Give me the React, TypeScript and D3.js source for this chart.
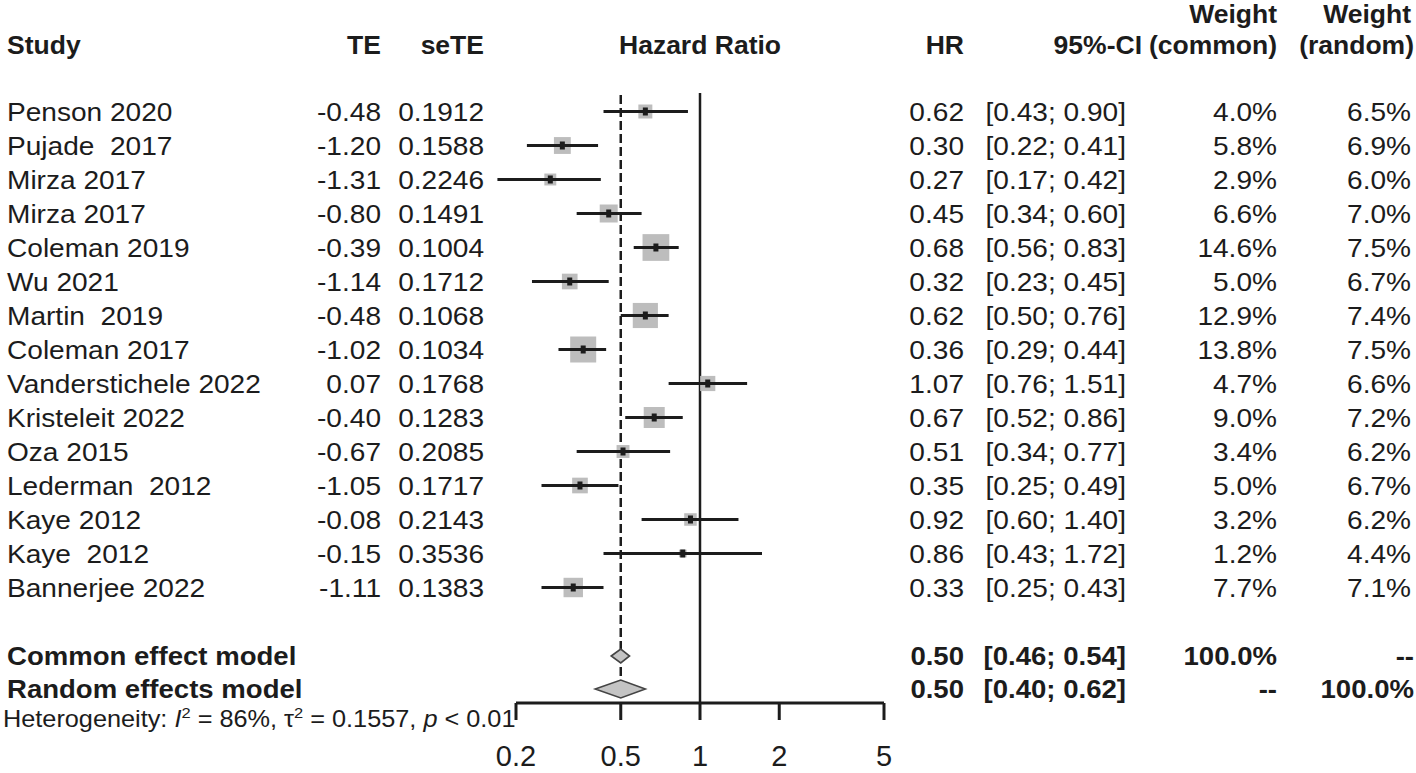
import React from "react";
import * as d3 from "d3";

const studies = [
  "Penson 2020", "Pujade  2017", "Mirza 2017", "Mirza 2017", "Coleman 2019",
  "Wu 2021", "Martin  2019", "Coleman 2017", "Vanderstichele 2022", "Kristeleit 2022",
  "Oza 2015", "Lederman  2012", "Kaye 2012", "Kaye  2012", "Bannerjee 2022",
];
const te = [-0.48, -1.2, -1.31, -0.8, -0.39, -1.14, -0.48, -1.02, 0.07, -0.4, -0.67, -1.05, -0.08, -0.15, -1.11];
const seTE = ["0.1912", "0.1588", "0.2246", "0.1491", "0.1004", "0.1712", "0.1068", "0.1034", "0.1768", "0.1283", "0.2085", "0.1717", "0.2143", "0.3536", "0.1383"];
const hr = [0.62, 0.3, 0.27, 0.45, 0.68, 0.32, 0.62, 0.36, 1.07, 0.67, 0.51, 0.35, 0.92, 0.86, 0.33];
const ciLow = [0.43, 0.22, 0.17, 0.34, 0.56, 0.23, 0.5, 0.29, 0.76, 0.52, 0.34, 0.25, 0.6, 0.43, 0.25];
const ciHigh = [0.9, 0.41, 0.42, 0.6, 0.83, 0.45, 0.76, 0.44, 1.51, 0.86, 0.77, 0.49, 1.4, 1.72, 0.43];
const wCommon = [4.0, 5.8, 2.9, 6.6, 14.6, 5.0, 12.9, 13.8, 4.7, 9.0, 3.4, 5.0, 3.2, 1.2, 7.7];
const wRandom = [6.5, 6.9, 6.0, 7.0, 7.5, 6.7, 7.4, 7.5, 6.6, 7.2, 6.2, 6.7, 6.2, 4.4, 7.1];

const models = ["Common effect model", "Random effects model"];
const modelHR = [0.5, 0.5];
const modelLow = [0.46, 0.4];
const modelHigh = [0.54, 0.62];
const modelWCommon = [100.0, null];
const modelWRandom = [null, 100.0];

const axisTicks = [0.2, 0.5, 1, 2, 5];

const W = 1416;
const H = 773;
const ink = "#1c1c1c";

const f2 = (v: number) => v.toFixed(2);
const pct = (v: number | null) => (v == null ? "--" : v.toFixed(1) + "%");

const T = ({ x, y, anchor = "start", bold = false, size = 26, sx = 1.08, children }: any) => (
  <text
    transform={`translate(${x},${y}) scale(${sx},1)`}
    textAnchor={anchor}
    dy="0.35em"
    fontSize={size}
    fontWeight={bold ? "bold" : "normal"}
    fill={ink}
    style={{ whiteSpace: "pre" }}
  >
    {children}
  </text>
);

// header labels, bold and a bit narrower than the body text
const Hd = (p: any) => <T {...p} bold sx={1.02} />;

const App = () => {
  const x = d3.scaleLog().domain([0.2, 5]).range([516, 884]);
  const row = d3.scaleLinear().domain([0, 1]).range([111.5, 145.5]);
  const axisY = 703;
  const headY = 45;

  const colTE = 381;
  const colSe = 484;
  const colHR = 964;
  const colCI = 1126;
  const colWc = 1277;
  const colWr = 1411;

  const sq = (w: number) => 7 * Math.sqrt(w);

  const diamond = (lo: number, mid: number, hi: number, cy: number, h: number) =>
    `M${x(lo)},${cy} L${x(mid)},${cy - h} L${x(hi)},${cy} L${x(mid)},${cy + h} Z`;

  const yCommon = 656;
  const yRandom = 689;
  const yHet = 719;

  return (
    <svg
      width={W}
      height={H}
      style={{ position: "absolute", left: 0, top: 0, background: "#fff" }}
      fontFamily="'Liberation Sans', Arial, sans-serif"
    >
      <rect width={W} height={H} fill="#fff" />

      {/* headers */}
      <Hd x={7} y={headY}>Study</Hd>
      <Hd x={colTE} y={headY} anchor="end">TE</Hd>
      <Hd x={colSe} y={headY} anchor="end">seTE</Hd>
      <Hd x={x(1)} y={headY} anchor="middle">Hazard Ratio</Hd>
      <Hd x={colHR} y={headY} anchor="end">HR</Hd>
      <Hd x={1142} y={headY} anchor="end">95%-CI</Hd>
      <Hd x={colWc} y={14} anchor="end">Weight</Hd>
      <Hd x={colWc} y={headY} anchor="end">(common)</Hd>
      <Hd x={colWr} y={14} anchor="end">Weight</Hd>
      <Hd x={1414} y={headY} anchor="end">(random)</Hd>

      {/* reference lines */}
      <line x1={x(1)} x2={x(1)} y1={93} y2={axisY} stroke={ink} strokeWidth={2.5} />
      <line
        x1={x(modelHR[0])}
        x2={x(modelHR[0])}
        y1={95}
        y2={yRandom - 8}
        stroke={ink}
        strokeWidth={2.5}
        strokeDasharray="9,4"
      />

      {/* study rows */}
      {studies.map((s, i) => {
        const cy = row(i);
        const side = sq(wCommon[i]);
        return (
          <g key={i}>
            <T x={7} y={cy}>{s}</T>
            <T x={colTE} y={cy} anchor="end">{f2(te[i])}</T>
            <T x={colSe} y={cy} anchor="end">{seTE[i]}</T>
            <T x={colHR} y={cy} anchor="end">{f2(hr[i])}</T>
            <T x={colCI} y={cy} anchor="end">{`[${f2(ciLow[i])}; ${f2(ciHigh[i])}]`}</T>
            <T x={colWc} y={cy} anchor="end">{pct(wCommon[i])}</T>
            <T x={colWr} y={cy} anchor="end">{pct(wRandom[i])}</T>
            <rect
              x={x(hr[i]) - side / 2}
              y={cy - side / 2}
              width={side}
              height={side}
              fill="#bdbdbd"
            />
            <line x1={x(ciLow[i])} x2={x(ciHigh[i])} y1={cy} y2={cy} stroke={ink} strokeWidth={3} />
            <rect x={x(hr[i]) - 2.5} y={cy - 4} width={5} height={8} fill={ink} />
          </g>
        );
      })}

      {/* pooled estimates */}
      {models.map((m, i) => {
        const cy = i === 0 ? yCommon : yRandom;
        return (
          <g key={m}>
            <T x={7} y={cy} bold sx={1.06}>{m}</T>
            <T x={colHR} y={cy} anchor="end" bold sx={1.06}>{f2(modelHR[i])}</T>
            <T x={colCI} y={cy} anchor="end" bold sx={1.06}>{`[${f2(modelLow[i])}; ${f2(modelHigh[i])}]`}</T>
            <T x={colWc} y={cy} anchor="end" bold sx={1.06}>{pct(modelWCommon[i])}</T>
            <T x={colWr + 3} y={cy} anchor="end" bold sx={1.06}>{pct(modelWRandom[i])}</T>
            <path
              d={diamond(modelLow[i], modelHR[i], modelHigh[i], cy, i === 0 ? 7 : 9)}
              fill="#c4c4c4"
              stroke="#444"
              strokeWidth={1.6}
            />
          </g>
        );
      })}

      {/* heterogeneity */}
      <text x={3} y={yHet} dy="0.35em" fontSize={23} fill={ink} transform="translate(-0.3,0) scale(1.1,1)">
        Heterogeneity: <tspan fontStyle="italic">I</tspan>
        <tspan dy={-9} fontSize={15}>2</tspan>
        <tspan dy={9}> = 86%, τ</tspan>
        <tspan dy={-9} fontSize={15}>2</tspan>
        <tspan dy={9}> = 0.1557, </tspan>
        <tspan fontStyle="italic">p</tspan>
        <tspan> &lt; 0.01</tspan>
      </text>

      {/* axis */}
      <g>
        <line x1={x(0.2)} x2={x(5)} y1={axisY} y2={axisY} stroke={ink} strokeWidth={3} />
        {axisTicks.map((t) => (
          <g key={t}>
            <line x1={x(t)} x2={x(t)} y1={axisY} y2={axisY + 17} stroke={ink} strokeWidth={3} />
            <T x={x(t)} y={756} anchor="middle" size={29} sx={1}>{String(t)}</T>
          </g>
        ))}
      </g>
    </svg>
  );
};

export default App;
